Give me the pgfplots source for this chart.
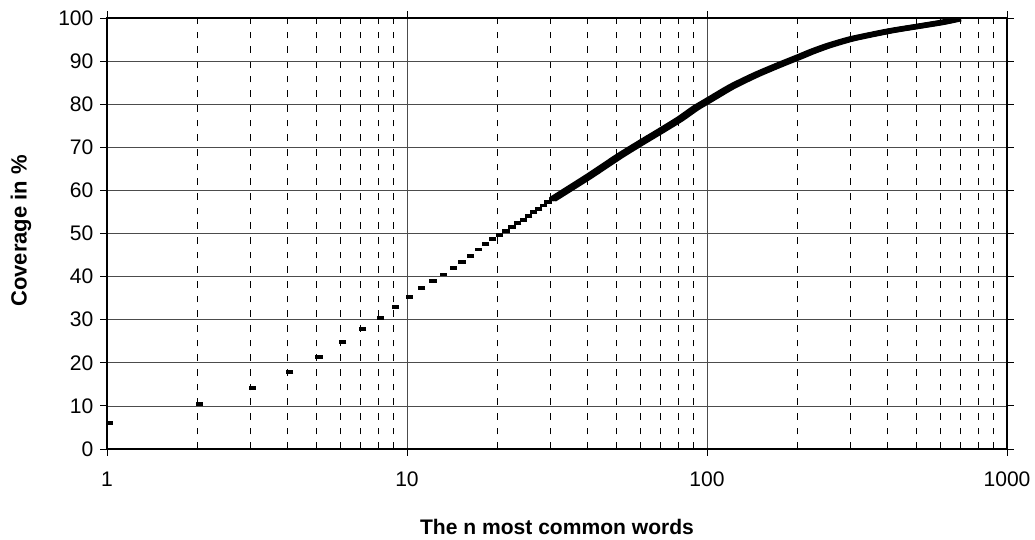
\documentclass[border=0pt]{standalone}
\usepackage{fontspec}
\setmainfont{Liberation Sans}
\usepackage{pgfplots}
\usepackage{pgfplotstable}
\pgfplotsset{compat=1.18}

% single words, one mark each
\pgfplotstableread{
n cov
1 6.0
2 10.4
3 14.1
4 17.8
5 21.3
6 24.8
7 27.8
8 30.4
9 32.9
10 35.3
11 37.3
12 39.0
13 40.5
14 42.0
15 43.4
16 44.8
17 46.3
18 47.5
19 48.7
20 49.7
21 50.6
22 51.5
23 52.4
24 53.2
25 54.1
26 54.9
27 55.7
28 56.5
29 57.3
30 57.9
}\marksdata

% dense part, where the marks run together
\pgfplotstableread{
n cov
30 57.9
40 63.4
50 67.9
60 71.3
70 74.1
80 76.6
90 79.1
100 81.0
119 84.1
143 86.8
171 89.1
200 91.0
220 92.2
250 93.6
300 95.2
400 97.0
500 98.1
600 99.0
680 99.8
}\curvedata

\begin{document}
\begin{tikzpicture}
\path[use as bounding box] (-80.25pt,-67.5pt) rectangle (696pt,336.75pt);
\begin{axis}[
  at={(0,0)}, anchor=south west,
  scale only axis,
  width=675pt, height=323.25pt,
  xmode=log, log basis x=10,
  xmin=1, xmax=1000, ymin=0, ymax=100,
  xtick={1,10,100,1000},
  xticklabels={1,10,100,1000},
  minor xtick={2,3,4,5,6,7,8,9,20,30,40,50,60,70,80,90,200,300,400,500,600,700,800,900},
  ytick={0,10,...,100},
  xmajorgrids, xminorgrids, ymajorgrids,
  major grid style={line width=0.6pt, color=black!70},
  minor grid style={line width=0.6pt, color=black, dash pattern=on 5pt off 6pt},
  axis line style={line width=1.4pt},
  tick align=outside,
  major tick length=5pt,
  minor tick length=0pt,
  tick style={line width=0.7pt, black},
  /pgf/number format/assume math mode=true,
  ticklabel style={font=\fontsize{15.8}{18}\selectfont, inner sep=0pt},
  xticklabel style={anchor=center, yshift=-18pt},
  yticklabel style={anchor=east},
  yticklabel shift=5pt,
  xlabel={The n most common words},
  ylabel={Coverage in \%},
  xlabel style={font=\fontsize{15.8}{18}\selectfont\bfseries, at={(rel axis cs:0.5,0)}, anchor=center, yshift=-58.5pt},
  ylabel style={font=\fontsize{16.5}{19}\selectfont\bfseries, at={(rel axis cs:0,0.5)}, anchor=center, yshift=64.5pt, xshift=2pt},
]
% the run of overlapping dash marks, swept as a thick band
\addplot[black, line width=3.8pt, line join=round, smooth, tension=0.4, xshift=0.2pt] table[x=n, y=cov] {\curvedata};
\addplot[black, line width=3.8pt, line join=round, smooth, tension=0.4, xshift=1.7pt] table[x=n, y=cov] {\curvedata};
\addplot[black, line width=3.8pt, line join=round, smooth, tension=0.4, xshift=3.2pt] table[x=n, y=cov] {\curvedata};
\addplot[black, only marks, mark=-, mark size=2.7pt, mark options={line width=2.9pt, xshift=1.7pt}] table[x=n, y=cov] {\marksdata};
\end{axis}
\end{tikzpicture}
\end{document}
